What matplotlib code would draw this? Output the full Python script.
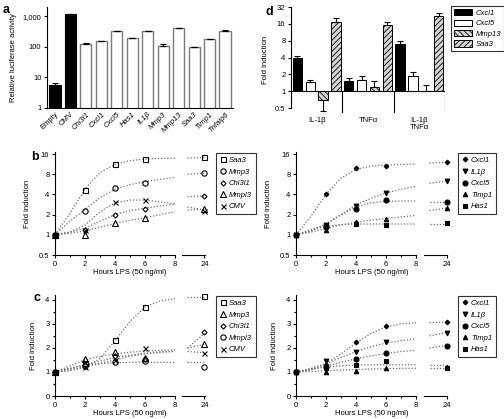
import numpy as np
import matplotlib
matplotlib.use("Agg")
import matplotlib.pyplot as plt
from matplotlib.lines import Line2D
from matplotlib.patches import Patch
from matplotlib.ticker import FixedLocator, NullLocator

plt.rcParams['font.family'] = ['Liberation Sans', 'DejaVu Sans']
plt.rcParams['font.size'] = 5.5
plt.rcParams['axes.linewidth'] = 0.8
plt.rcParams['hatch.linewidth'] = 0.6
plt.rcParams['hatch.color'] = '#555555'

W, H = 504, 419
FS = 5.5

# ---------------- panel a: luciferase ----------------
a_labels = ["Empty", "CMV", "Chi3l1", "Cxcl1", "Cxcl5", "Has1", "IL1β",
            "Mmp3", "Mmp13", "Saa3", "Timp1", "Tnfaip6"]
a_values = [5.5, 1150, 125, 155, 330, 190, 330, 110, 400, 95, 175, 340]
a_errors = [1.3, 60, 4, 5, 10, 6, 10, 10, 15, 4, 6, 10]
a_black = [True, True] + [False] * 10

# ---------------- panel d: cytokine induction ----------------
d_groups = ["IL-1β", "TNFα", "IL-1β\nTNFα"]
d_genes = ["Cxcl1", "Cxcl5", "Mmp13", "Saa3"]
d_cxcl1 = [4.0, 1.5, 7.0]
d_cxcl5 = [1.45, 1.6, 1.85]
d_mmp13 = [0.7, 1.2, 1.0]
d_saa3 = [17.5, 15.0, 22.0]
d_cxcl1_err = [0.3, 0.2, 1.0]
d_cxcl5_err = [0.15, 0.3, 0.35]
d_mmp13_err = [0.25, 0.3, 0.3]
d_saa3_err = [2.5, 2.0, 3.0]

# ---------------- panels b and c: LPS time courses ----------------
hours = [0, 2, 4, 6]
fit_hours = [0, 1, 2, 3, 4, 5, 6, 7, 8]
late_hours = [22.3, 24.0]

b_left_names = ["Saa3", "Mmp3", "Chi3l1", "Mmpl3", "CMV"]
b_left_points = {
    "Saa3": [1, 4.7, 11.2, 13.4], "Mmp3": [1, 2.27, 5.0, 6.0],
    "Chi3l1": [1, 1.19, 2.0, 2.46], "Mmpl3": [1, 1.0, 1.48, 1.8],
    "CMV": [1, 1.2, 3.1, 3.3]}
b_left_24h = {"Saa3": 14.3, "Mmp3": 8.3, "Chi3l1": 3.8, "Mmpl3": 2.4, "CMV": 2.3}
b_left_fit = {
    "Saa3": [1, 2.1, 4.8, 8.5, 11.2, 12.8, 13.5, 13.8, 13.9],
    "Mmp3": [1, 1.6, 2.4, 3.6, 4.8, 5.6, 6.2, 6.7, 7.2],
    "Chi3l1": [1, 1.1, 1.25, 1.6, 2.0, 2.3, 2.5, 2.7, 2.85],
    "Mmpl3": [1, 1.05, 1.15, 1.3, 1.48, 1.65, 1.8, 2.0, 2.2],
    "CMV": [1, 1.1, 1.4, 2.2, 3.0, 3.3, 3.3, 3.1, 2.9]}
b_left_late = {"Saa3": [14.0, 14.3], "Mmp3": [8.0, 8.3], "Chi3l1": [3.7, 3.8],
               "Mmpl3": [2.35, 2.4], "CMV": [2.6, 2.35]}

b_right_names = ["Cxcl1", "IL1β", "Cxcl5", "Timp1", "Has1"]
b_right_points = {
    "Cxcl1": [1, 4.0, 9.8, 10.7], "IL1β": [1, 1.4, 2.7, 4.2],
    "Cxcl5": [1, 1.33, 2.4, 3.3], "Timp1": [1, 1.19, 1.58, 1.72],
    "Has1": [1, 1.37, 1.45, 1.4]}
b_right_24h = {"Cxcl1": 12.0, "IL1β": 6.3, "Cxcl5": 3.07, "Timp1": 2.5, "Has1": 1.48}
b_right_fit = {
    "Cxcl1": [1, 1.9, 4.0, 7.0, 9.5, 10.6, 11.0, 11.2, 11.3],
    "IL1β": [1, 1.15, 1.45, 2.0, 2.8, 3.5, 4.2, 4.8, 5.3],
    "Cxcl5": [1, 1.15, 1.45, 2.0, 2.6, 3.0, 3.15, 3.2, 3.2],
    "Timp1": [1, 1.1, 1.25, 1.4, 1.55, 1.65, 1.75, 1.85, 1.95],
    "Has1": [1, 1.2, 1.35, 1.42, 1.45, 1.45, 1.45, 1.45, 1.45]}
b_right_late = {"Cxcl1": [11.8, 12.0], "IL1β": [5.9, 6.3], "Cxcl5": [3.1, 3.1],
                "Timp1": [2.3, 2.5], "Has1": [1.45, 1.45]}

c_left_names = ["Saa3", "Mmp3", "Chi3l1", "Mmpl3", "CMV"]
c_left_points = {
    "Saa3": [1, 1.39, 2.32, 3.7], "Mmp3": [1, 1.53, 1.83, 1.6],
    "Chi3l1": [1, 1.3, 1.65, 1.55], "Mmpl3": [1, 1.25, 1.4, 1.45],
    "CMV": [1, 1.2, 1.5, 2.0]}
c_left_24h = {"Saa3": 4.14, "Mmp3": 2.15, "Chi3l1": 2.65, "Mmpl3": 1.2, "CMV": 1.8}
c_left_fit = {
    "Saa3": [1, 1.05, 1.2, 1.55, 2.3, 3.1, 3.7, 3.95, 4.05],
    "Mmp3": [1, 1.25, 1.5, 1.65, 1.75, 1.82, 1.87, 1.9, 1.92],
    "Chi3l1": [1, 1.15, 1.3, 1.45, 1.6, 1.7, 1.78, 1.83, 1.87],
    "Mmpl3": [1, 1.15, 1.28, 1.35, 1.38, 1.4, 1.4, 1.4, 1.4],
    "CMV": [1, 1.1, 1.2, 1.35, 1.5, 1.65, 1.75, 1.82, 1.85]}
c_left_late = {"Saa3": [4.1, 4.1], "Mmp3": [2.0, 2.15], "Chi3l1": [2.0, 2.6],
               "Mmpl3": [1.4, 1.4], "CMV": [1.85, 1.8]}

c_right_names = ["Cxcl1", "IL1β", "Cxcl5", "Timp1", "Has1"]
c_right_points = {
    "Cxcl1": [1, 1.3, 2.25, 2.93], "IL1β": [1, 1.45, 1.83, 2.25],
    "Cxcl5": [1, 1.2, 1.54, 1.8], "Timp1": [1, 1.0, 1.05, 1.15],
    "Has1": [1, 1.15, 1.29, 1.47]}
c_right_24h = {"Cxcl1": 3.07, "IL1β": 2.64, "Cxcl5": 2.1, "Timp1": 1.2, "Has1": 1.15}
c_right_fit = {
    "Cxcl1": [1, 1.1, 1.35, 1.75, 2.2, 2.6, 2.88, 3.0, 3.05],
    "IL1β": [1, 1.15, 1.35, 1.6, 1.85, 2.05, 2.2, 2.3, 2.38],
    "Cxcl5": [1, 1.1, 1.25, 1.4, 1.55, 1.67, 1.77, 1.85, 1.9],
    "Timp1": [1, 1.02, 1.05, 1.08, 1.1, 1.12, 1.14, 1.15, 1.15],
    "Has1": [1, 1.12, 1.2, 1.26, 1.29, 1.3, 1.3, 1.3, 1.3]}
c_right_late = {"Cxcl1": [3.05, 3.07], "IL1β": [2.5, 2.64], "Cxcl5": [2.0, 2.1],
                "Timp1": [1.18, 1.18], "Has1": [1.28, 1.28]}

left_style = {"Saa3": ("s", 3.6, "none"), "Mmp3": ("o", 3.8, "none"),
              "Chi3l1": ("D", 2.6, "none"), "Mmpl3": ("^", 3.8, "none"),
              "CMV": ("x", 3.6, "none")}
c_left_style = dict(left_style)
c_left_style["Mmp3"] = ("^", 3.8, "none")
c_left_style["Mmpl3"] = ("o", 3.8, "none")
right_style = {"Cxcl1": ("D", 2.4, "black"), "IL1β": ("v", 3.4, "black"),
               "Cxcl5": ("o", 3.6, "black"), "Timp1": ("^", 3.2, "black"),
               "Has1": ("s", 3.4, "black")}


def frect(x0, y0, x1, y1):
    return [x0 / W, 1 - y1 / H, (x1 - x0) / W, (y1 - y0) / H]


fig = plt.figure(figsize=(W / 100, H / 100), dpi=100)

# ---- a ----
ax = fig.add_axes(frect(47, 7, 233, 108))
xa = np.arange(len(a_labels))
for i in range(len(a_labels)):
    if a_black[i]:
        ax.bar(xa[i], a_values[i], 0.72, color="black", edgecolor="black", lw=0.8)
    else:
        ax.bar(xa[i], a_values[i], 0.72, color="white", edgecolor="#7a7a7a", lw=1.0)
ax.errorbar(xa, a_values, yerr=[np.zeros(len(a_values)), a_errors], fmt="none",
            ecolor="black", elinewidth=0.8, capsize=2.2, capthick=0.8)
ax.set_yscale("log")
ax.set_ylim(1, 2000)
ax.set_xlim(-0.52, 11.52)
ax.yaxis.set_major_locator(FixedLocator([1, 10, 100, 1000]))
ax.yaxis.set_minor_locator(NullLocator())
ax.set_yticklabels(["1", "10", "100", "1,000"])
ax.set_xticks(xa)
ax.set_xticklabels(a_labels, rotation=45, ha="right", rotation_mode="anchor")
for i, t in enumerate(ax.get_xticklabels()):
    if not a_black[i]:
        t.set_style("italic")
ax.spines[["top", "right"]].set_visible(False)
ax.tick_params(length=2.5, width=0.8, labelsize=FS, pad=1.5)
ax.tick_params(axis="x", length=0, pad=2)
ax.set_ylabel("Relative luciferase activity", fontsize=FS, labelpad=4)
fig.text(3 / W, 1 - 13 / H, "a", fontsize=9, fontweight="bold")

# ---- d ----
ax = fig.add_axes(frect(291, 7, 445, 113))
xd = np.arange(len(d_groups))
d_vals = [d_cxcl1, d_cxcl5, d_mmp13, d_saa3]
d_errs = [d_cxcl1_err, d_cxcl5_err, d_mmp13_err, d_saa3_err]
d_face = ["black", "white", "#d4d4d4", "#d4d4d4"]
d_hatch = [None, None, "\\\\\\\\\\\\", "//////"]
bw = 0.18
handles = []
for k in range(4):
    pos = xd + (k - 1.5) * 0.25
    vals = np.array(d_vals[k])
    ax.bar(pos, vals - 1, bw, bottom=1, color=d_face[k], edgecolor="black",
           lw=0.7, hatch=d_hatch[k])
    err = np.array(d_errs[k])
    lower = np.where(vals < 1, err, 0)
    upper = np.where(vals < 1, 0, err)
    ax.errorbar(pos, vals, yerr=[lower, upper], fmt="none", ecolor="black",
                elinewidth=0.8, capsize=2.2, capthick=0.8)
    handles.append(Patch(facecolor=d_face[k], edgecolor="black", hatch=d_hatch[k],
                         lw=0.7, label=d_genes[k]))
ax.set_yscale("log", base=2)
ax.set_ylim(0.41, 32)
ax.set_xlim(-0.5, 2.5)
ax.yaxis.set_major_locator(FixedLocator([0.5, 1, 2, 4, 8, 16, 32]))
ax.yaxis.set_minor_locator(NullLocator())
ax.set_yticklabels(["0.5", "1", "2", "4", "8", "16", "32"])
ax.spines[["top", "right", "bottom"]].set_visible(False)
ax.spines["left"].set_bounds(0.5, 32)
ax.axhline(1, color="black", lw=0.8)
ax.vlines([0.5, 1.5, 2.5], 0.41, 1, color="black", lw=0.8)
ax.set_xticks(xd)
ax.set_xticklabels(d_groups, linespacing=1.0)
ax.tick_params(length=2.5, width=0.8, labelsize=FS, pad=1.5)
ax.tick_params(axis="x", length=0, pad=3)
ax.set_ylabel("Fold induction", fontsize=FS, labelpad=4)
leg = fig.legend(handles=handles, loc="upper left", bbox_to_anchor=(451 / W, 1 - 6 / H),
                 frameon=True, fancybox=False, edgecolor="black", fontsize=FS,
                 handlelength=2.4, handleheight=0.9, handletextpad=0.4,
                 borderpad=0.4, labelspacing=0.35, borderaxespad=0)
leg.get_frame().set_linewidth(0.8)
for t in leg.get_texts():
    t.set_style("italic")
fig.text(265 / W, 1 - 15 / H, "d", fontsize=9, fontweight="bold")


# ---- b and c ----
def time_panel(x0, x1, xs0, y0, y1, names, points, p24, fit, late, style,
               logy, legx, lab=None, labpos=None):
    ax = fig.add_axes(frect(x0, y0, x1, y1))
    axs = fig.add_axes(frect(xs0, y0, xs0 + 23, y1))
    for n in names:
        m, ms, fc = style[n]
        ax.plot(fit_hours, fit[n], ls=(0, (1, 1.5)), color="#6e6e6e", lw=0.9)
        ax.plot(hours, points[n], ls="none", marker=m, ms=ms, mfc=fc,
                mec="black", mew=0.8, color="black", clip_on=False, zorder=3)
        axs.plot(late_hours, late[n], ls=(0, (1, 1.5)), color="#6e6e6e", lw=0.9)
        axs.plot([24], [p24[n]], ls="none", marker=m, ms=ms, mfc=fc,
                 mec="black", mew=0.8, color="black", clip_on=False, zorder=3)
    for a in (ax, axs):
        if logy:
            a.set_yscale("log", base=2)
            a.set_ylim(0.5, 17.2)
        else:
            a.set_ylim(0, 4.2)
        a.spines[["top", "right"]].set_visible(False)
        a.tick_params(length=2.5, width=0.8, labelsize=FS, pad=1.5)
        a.tick_params(which="minor", length=1.6, width=0.8)
    ax.set_xlim(0, 8)
    ax.set_xticks([0, 2, 4, 6, 8])
    ax.xaxis.set_minor_locator(FixedLocator([1, 3, 5, 7]))
    if logy:
        ax.yaxis.set_major_locator(FixedLocator([0.5, 1, 2, 4, 8, 16]))
        ax.yaxis.set_minor_locator(NullLocator())
        ax.set_yticklabels(["0.5", "1", "2", "4", "8", "16"])
    else:
        ax.set_yticks([0, 1, 2, 3, 4])
        ax.yaxis.set_minor_locator(FixedLocator([0.5, 1.5, 2.5, 3.5]))
    ax.set_ylabel("Fold induction", fontsize=FS, labelpad=6)
    axs.set_xlim(21.75, 24.05)
    axs.set_xticks([24])
    axs.spines["left"].set_visible(False)
    axs.yaxis.set_major_locator(NullLocator())
    axs.yaxis.set_minor_locator(NullLocator())
    fig.text((x0 + xs0 + 23) / 2 / W, 1 - (y1 + 17) / H, "Hours LPS (50 ng/ml)",
             fontsize=FS, ha="center", va="center")
    hs = []
    for n in names:
        m, ms, fc = style[n]
        hs.append(Line2D([], [], ls="none", marker=m, ms=ms, mfc=fc, mec="black",
                         mew=0.8, color="black", label=n))
    leg = fig.legend(handles=hs, loc="upper left",
                     bbox_to_anchor=(legx / W, 1 - (y0 + 1) / H), frameon=True,
                     fancybox=False, edgecolor="black", fontsize=FS,
                     handlelength=0.8, handletextpad=0.4, borderpad=0.5,
                     labelspacing=0.55, borderaxespad=0)
    leg.get_frame().set_linewidth(0.8)
    for t in leg.get_texts():
        t.set_style("italic")
    if lab:
        fig.text(labpos[0] / W, 1 - labpos[1] / H, lab, fontsize=9, fontweight="bold")


time_panel(55, 175, 182, 152, 255, b_left_names, b_left_points, b_left_24h,
           b_left_fit, b_left_late, left_style, True, 216, "b", (31, 160))
time_panel(296, 416, 424, 152, 255, b_right_names, b_right_points, b_right_24h,
           b_right_fit, b_right_late, right_style, True, 458)
time_panel(55, 175, 182, 295, 396, c_left_names, c_left_points, c_left_24h,
           c_left_fit, c_left_late, c_left_style, False, 216, "c", (33, 301))
time_panel(296, 416, 424, 295, 396, c_right_names, c_right_points, c_right_24h,
           c_right_fit, c_right_late, right_style, False, 458)

fig.savefig("out.png", dpi=100)
